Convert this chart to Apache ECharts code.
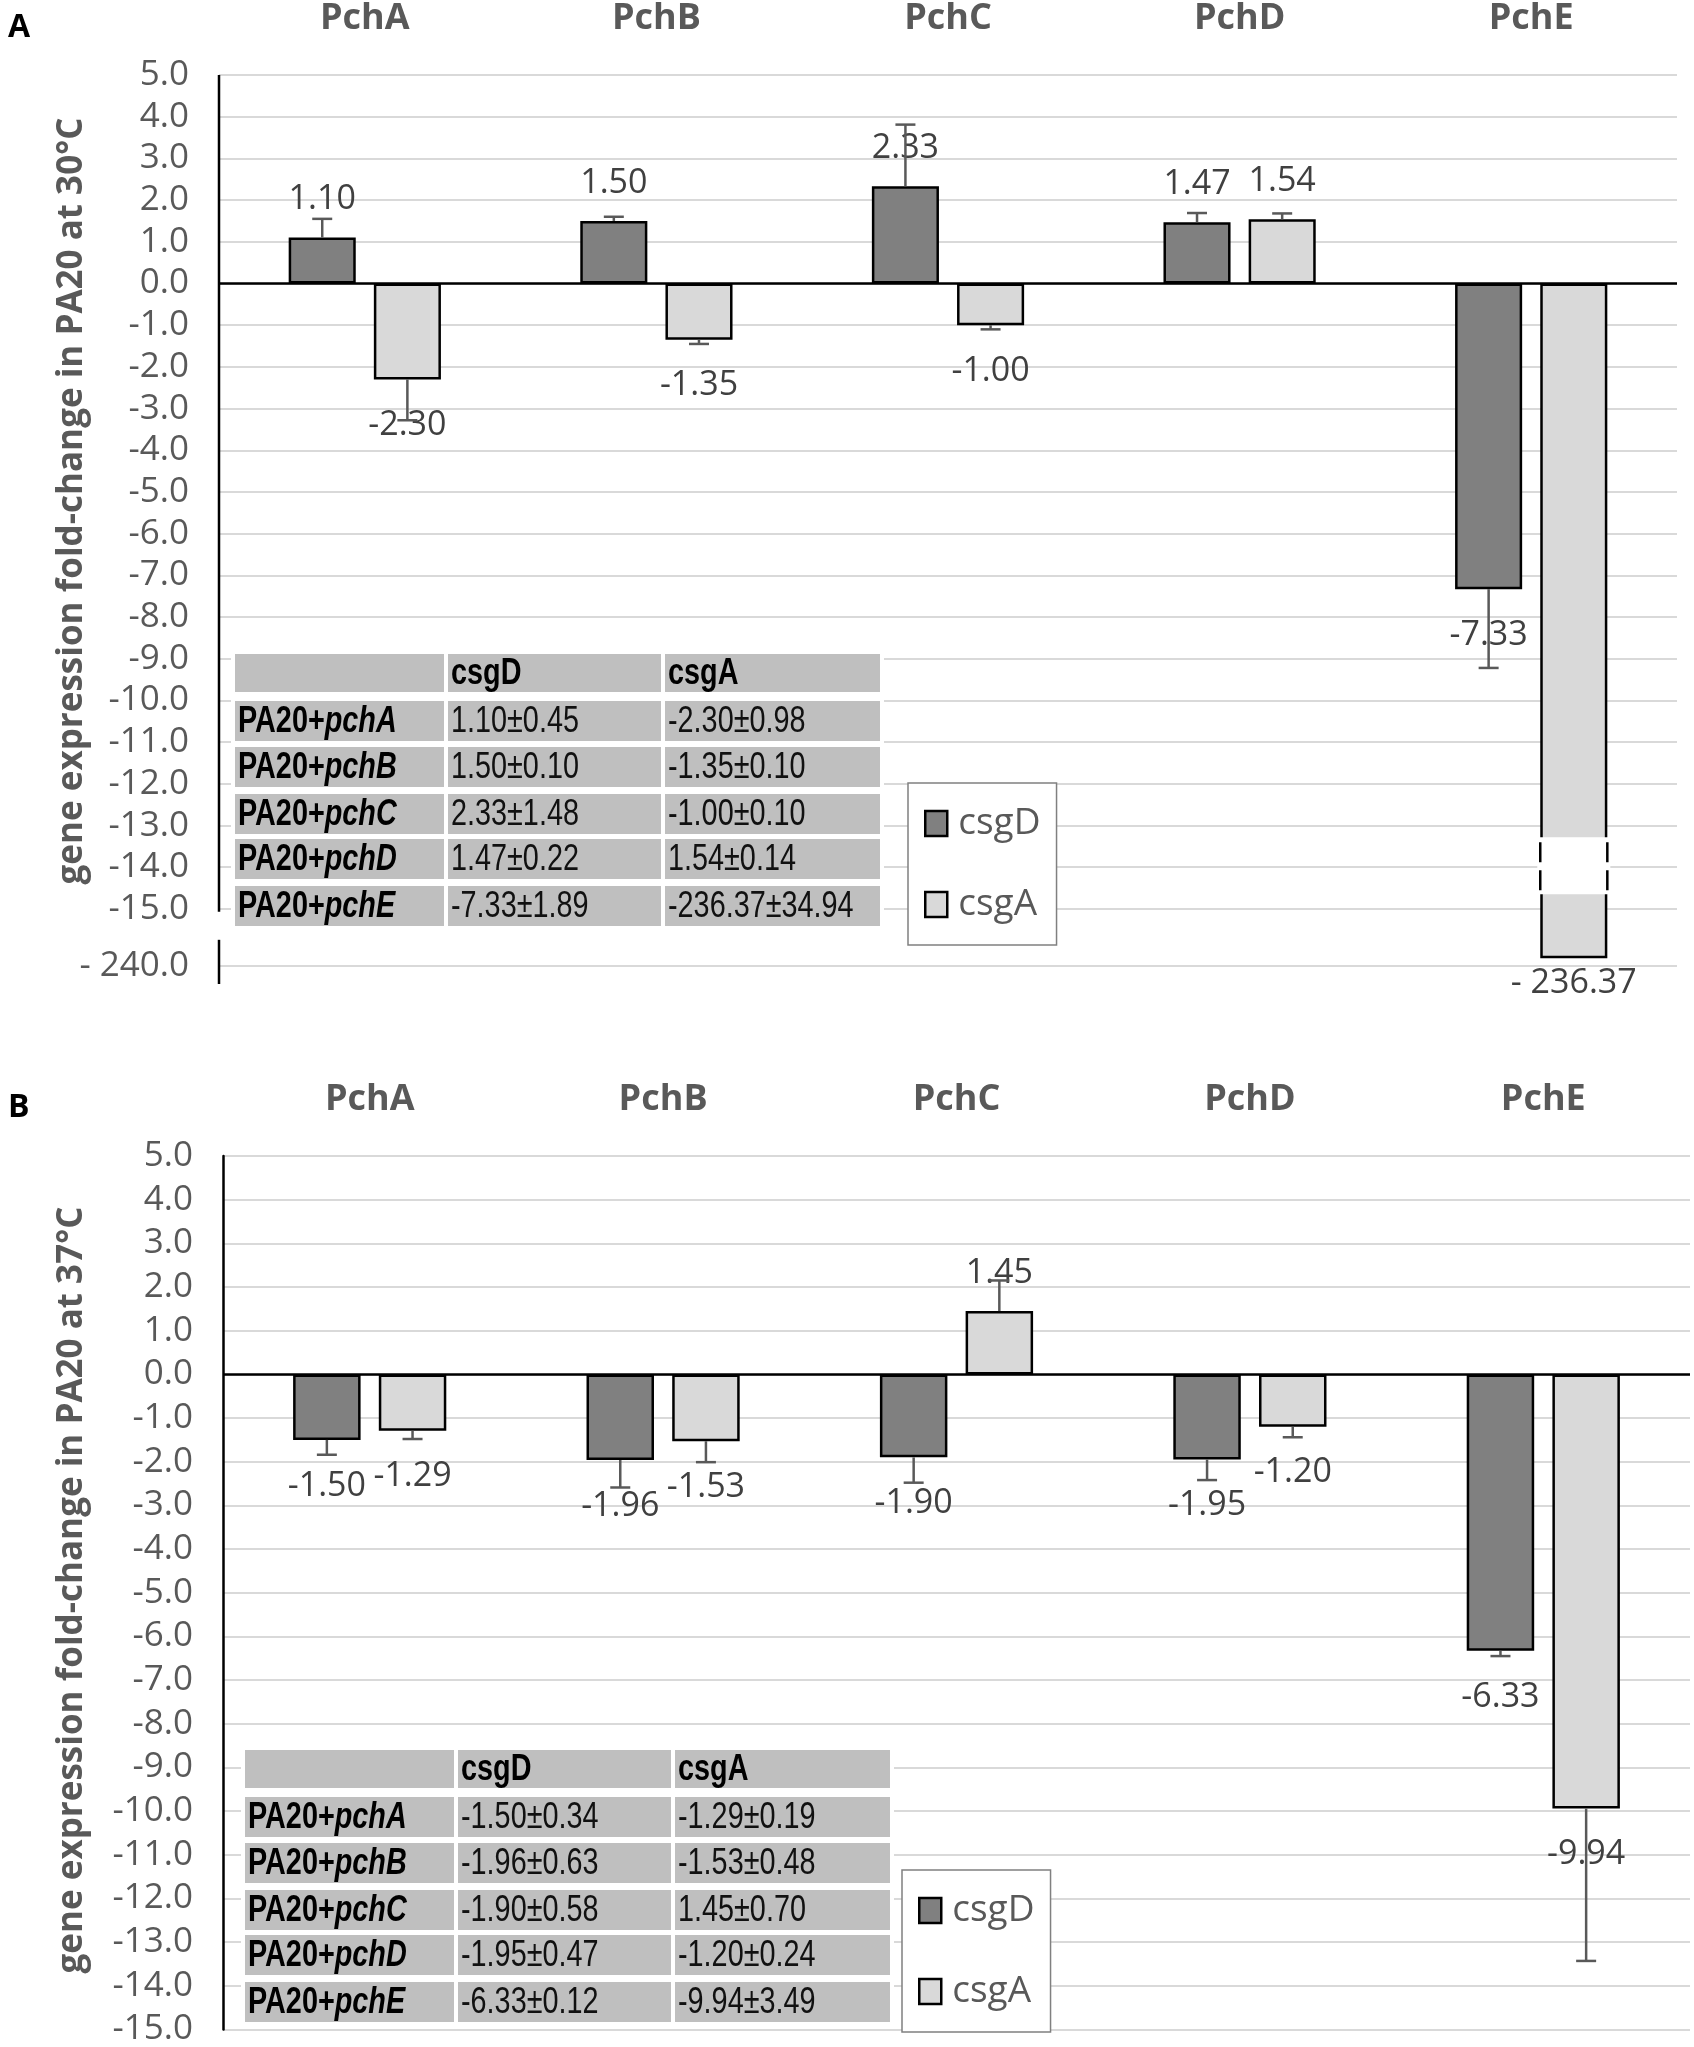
<!DOCTYPE html>
<html>
<head>
<meta charset="utf-8">
<script src="https://cdn.jsdelivr.net/npm/echarts@6/dist/echarts.min.js"></script>
<style>
  html, body { margin: 0; padding: 0; background: #fff; }
  #main { width: 1694px; height: 2047px; }
</style>
</head>
<body>
<div id="main"></div>
<script>
// ---- data ----
var categories = ['PchA', 'PchB', 'PchC', 'PchD', 'PchE'];
var strains = ['pchA', 'pchB', 'pchC', 'pchD', 'pchE'];

var csgD30 = [1.10, 1.50, 2.33, 1.47, -7.33];
var csgD30Err = [0.45, 0.10, 1.48, 0.22, 1.89];
var csgA30 = [-2.30, -1.35, -1.00, 1.54, -236.37];
var csgA30Err = [0.98, 0.10, 0.10, 0.14, 34.94];

var csgD37 = [-1.50, -1.96, -1.90, -1.95, -6.33];
var csgD37Err = [0.34, 0.63, 0.58, 0.47, 0.12];
var csgA37 = [-1.29, -1.53, 1.45, -1.20, -9.94];
var csgA37Err = [0.19, 0.48, 0.70, 0.24, 3.49];

var ticks30 = [5, 4, 3, 2, 1, 0, -1, -2, -3, -4, -5, -6, -7, -8, -9, -10, -11, -12, -13, -14, -15, -240];
var tickLabels30 = ['5.0', '4.0', '3.0', '2.0', '1.0', '0.0', '-1.0', '-2.0', '-3.0', '-4.0', '-5.0',
  '-6.0', '-7.0', '-8.0', '-9.0', '-10.0', '-11.0', '-12.0', '-13.0', '-14.0', '-15.0', '- 240.0'];

// broken axis in panel A: linear down to -15, then -240 sits just below
var BREAK_AT = -15;
var BREAK_REAL = -240;
var BREAK_AXIS = -16.37;
function toAxis30(v) {
  return v >= BREAK_AT ? v : BREAK_AXIS + (v - BREAK_REAL) * 0.052;
}
function same(v) { return v; }

var DARK = '#808080';
var LIGHT = '#d9d9d9';
var TXT = '#595959';
var FONT = "'Open Sans', 'Liberation Sans', sans-serif";
var NARROW = "'Liberation Sans', sans-serif";

function fmtVal(v) {
  return v < BREAK_AT ? '- ' + (-v).toFixed(2) : v.toFixed(2);
}

function barSeries(name, vals, map, color, idx) {
  return {
    name: name,
    type: 'bar',
    xAxisIndex: idx, yAxisIndex: idx,
    barWidth: '23%',
    barGap: '27%',
    z: 2,
    itemStyle: { color: color, borderColor: '#000', borderWidth: 2.5 },
    label: {
      show: true,
      color: '#404040',
      fontSize: 34,
      fontFamily: FONT,
      formatter: function (p) { return fmtVal(vals[p.dataIndex]); }
    },
    data: vals.map(function (v) {
      return {
        value: map(v),
        label: {
          position: v < 0 ? 'bottom' : 'top',
          distance: v < BREAK_AT ? 8 : (v < 0 ? 29 : 21)
        }
      };
    })
  };
}

function errSeries(vals, errs, side, map, idx) {
  var d = [];
  vals.forEach(function (v, i) {
    if (v < BREAK_AT) return;
    var end = v < 0 ? v - errs[i] : v + errs[i];
    d.push([i, map(v), map(end), side]);
  });
  return {
    type: 'custom',
    xAxisIndex: idx, yAxisIndex: idx,
    z: 5,
    silent: true,
    encode: { x: 0, y: [1, 2] },
    renderItem: function (params, api) {
      var band = api.size([1, 0])[0];
      var x = api.coord([api.value(0), 0])[0] + api.value(3) * 0.146 * band;
      var y0 = api.coord([api.value(0), api.value(1)])[1];
      var y1 = api.coord([api.value(0), api.value(2)])[1];
      var st = { stroke: TXT, lineWidth: 2.5 };
      return {
        type: 'group',
        children: [
          { type: 'line', shape: { x1: x, y1: y0, x2: x, y2: y1 }, style: st },
          { type: 'line', shape: { x1: x - 10, y1: y1, x2: x + 10, y2: y1 }, style: st }
        ]
      };
    },
    data: d
  };
}

function zeroLine() {
  return {
    silent: true, symbol: 'none',
    label: { show: false },
    lineStyle: { color: '#000', width: 2.5, type: 'solid' },
    data: [{ yAxis: 0 }]
  };
}

function xAxisOpt(idx) {
  return {
    type: 'category', gridIndex: idx, data: categories, position: 'top',
    axisLine: { show: false }, axisTick: { show: false },
    axisLabel: { color: TXT, fontSize: 36, fontWeight: 'bold', fontFamily: FONT, margin: 38 }
  };
}

function legendOpt(left, top) {
  return {
    data: ['csgD', 'csgA'], orient: 'vertical', left: left, top: top,
    icon: 'rect',
    itemWidth: 22, itemHeight: 25, itemGap: 44, padding: [22, 16],
    backgroundColor: '#fff', borderColor: '#808080', borderWidth: 1.5,
    itemStyle: { borderWidth: 2.5 },
    textStyle: { color: TXT, fontSize: 37, fontFamily: FONT, padding: [0, 0, 0, 6] }
  };
}

var chart = echarts.init(document.getElementById('main'));

var axisValues30 = ticks30.map(toAxis30);

var option = {
  animation: false,
  backgroundColor: '#fff',
  grid: [
    { left: 219, right: 17, top: 75, height: 909 },
    { left: 223, right: 4, top: 1156, height: 876 }
  ],
  xAxis: [xAxisOpt(0), xAxisOpt(1)],
  yAxis: [
    {
      type: 'value', gridIndex: 0, min: -16.8, max: 5,
      axisLine: { show: false },
      axisTick: { show: false, customValues: axisValues30 },
      splitLine: { show: true, lineStyle: { color: LIGHT, width: 2 } },
      axisLabel: {
        color: TXT, fontSize: 35, fontFamily: FONT, margin: 30,
        customValues: axisValues30,
        formatter: function (v) {
          for (var i = 0; i < axisValues30.length; i++) {
            if (Math.abs(axisValues30[i] - v) < 1e-6) return tickLabels30[i];
          }
          return '';
        }
      }
    },
    {
      type: 'value', gridIndex: 1, min: -15, max: 5, interval: 1,
      axisLine: { show: true, lineStyle: { color: '#000', width: 2.5 } },
      axisTick: { show: false },
      splitLine: { show: true, lineStyle: { color: LIGHT, width: 2 } },
      axisLabel: {
        color: TXT, fontSize: 35, fontFamily: FONT, margin: 30,
        formatter: function (v) { return v.toFixed(1); }
      }
    }
  ],
  legend: [legendOpt(908, 783), legendOpt(902, 1870)],
  series: [
    Object.assign(barSeries('csgD', csgD30, toAxis30, DARK, 0), { markLine: zeroLine() }),
    barSeries('csgA', csgA30, toAxis30, LIGHT, 0),
    Object.assign(barSeries('csgD', csgD37, same, DARK, 1), { markLine: zeroLine() }),
    barSeries('csgA', csgA37, same, LIGHT, 1),
    errSeries(csgD30, csgD30Err, -1, toAxis30, 0),
    errSeries(csgA30, csgA30Err, 1, toAxis30, 0),
    errSeries(csgD37, csgD37Err, -1, same, 1),
    errSeries(csgA37, csgA37Err, 1, same, 1)
  ]
};
chart.setOption(option);

// ---- overlays: table, axis names, broken axis & bar ----
function pm(v) { return v.toFixed(2) + '\u00b1'; }

function buildTable(x0, y0, d, dErr, a, aErr) {
  var colX = [0, 213, 430], colW = [209, 213, 215];
  var rowY = [0, 47, 93, 140, 185, 232], rowH = [38, 40, 40, 40, 40, 40];
  var els = [{ type: 'rect', z: 50, shape: { x: x0 - 4, y: y0 - 4, width: 653, height: 280 }, style: { fill: '#fff' } }];
  var rich = {
    b: { fontFamily: NARROW, fontSize: 36, fontWeight: 'bold', fill: '#000' },
    bi: { fontFamily: NARROW, fontSize: 36, fontWeight: 'bold', fontStyle: 'italic', fill: '#000' },
    n: { fontFamily: NARROW, fontSize: 36, fill: '#111' }
  };
  for (var r = 0; r < 6; r++) {
    for (var c = 0; c < 3; c++) {
      els.push({ type: 'rect', z: 51, shape: { x: x0 + colX[c], y: y0 + rowY[r], width: colW[c], height: rowH[r] }, style: { fill: '#bfbfbf' } });
      var txt = '';
      if (r === 0) {
        txt = c === 1 ? '{b|csgD}' : c === 2 ? '{b|csgA}' : '';
      } else {
        var i = r - 1;
        if (c === 0) txt = '{b|PA20+}{bi|' + strains[i] + '}';
        else if (c === 1) txt = '{n|' + pm(d[i]) + dErr[i].toFixed(2) + '}';
        else txt = '{n|' + pm(a[i]) + aErr[i].toFixed(2) + '}';
      }
      if (txt) {
        els.push({
          type: 'text', z: 52,
          x: x0 + colX[c] + 3, y: y0 + rowY[r] + rowH[r] / 2 + 1,
          scaleX: 0.8,
          style: { x: 0, y: 0, text: txt, rich: rich, verticalAlign: 'middle', align: 'left' }
        });
      }
    }
  }
  return els;
}

function axisName(text, y) {
  return {
    type: 'text', z: 50, x: 72, y: y, rotation: Math.PI / 2,
    style: { text: text, fill: TXT, font: 'bold 35px ' + FONT, align: 'center', verticalAlign: 'middle' }
  };
}

function panelLetter(text, y) {
  return { type: 'text', z: 50, style: { x: 8, y: y, text: text, fill: '#000', font: 'bold 32px ' + FONT, verticalAlign: 'middle' } };
}

var gridRect = chart.getModel().getComponent('grid', 0).coordinateSystem.getRect();
var yPx = function (v) { return chart.convertToPixel({ yAxisIndex: 0 }, v); };
var lay = chart.getModel().getSeriesByIndex(1).getData().getItemLayout(4);
var gapTop = yPx(-13.28), gapBot = yPx(-14.65);
var bx0 = lay.x, bx1 = lay.x + lay.width;
if (bx1 < bx0) { var t = bx0; bx0 = bx1; bx1 = t; }

var graphics = [
  panelLetter('A', 28),
  panelLetter('B', 1108),
  axisName('gene expression fold-change in PA20 at 30\u00b0C', 501),
  axisName('gene expression fold-change in PA20 at 37\u00b0C', 1590),
  // broken y axis of panel A
  { type: 'line', z: 10, shape: { x1: gridRect.x, y1: yPx(5), x2: gridRect.x, y2: yPx(-15.07) }, style: { stroke: '#000', lineWidth: 2.5 } },
  { type: 'line', z: 10, shape: { x1: gridRect.x, y1: yPx(-15.74), x2: gridRect.x, y2: yPx(-16.8) }, style: { stroke: '#000', lineWidth: 2.5 } },
  // break drawn across the long csgA bar
  { type: 'rect', z: 10, shape: { x: bx0 - 3, y: gapTop, width: bx1 - bx0 + 6, height: gapBot - gapTop }, style: { fill: '#fff' } },
  { type: 'line', z: 11, shape: { x1: bx0, y1: gapTop + 5, x2: bx0, y2: gapBot - 4 }, style: { stroke: '#000', lineWidth: 2.5, lineDash: [20, 8] } },
  { type: 'line', z: 11, shape: { x1: bx1, y1: gapTop + 5, x2: bx1, y2: gapBot - 4 }, style: { stroke: '#000', lineWidth: 2.5, lineDash: [20, 8] } }
].concat(
  buildTable(235, 654, csgD30, csgD30Err, csgA30, csgA30Err),
  buildTable(245, 1750, csgD37, csgD37Err, csgA37, csgA37Err)
);

chart.setOption({ graphic: graphics });
</script>
</body>
</html>
